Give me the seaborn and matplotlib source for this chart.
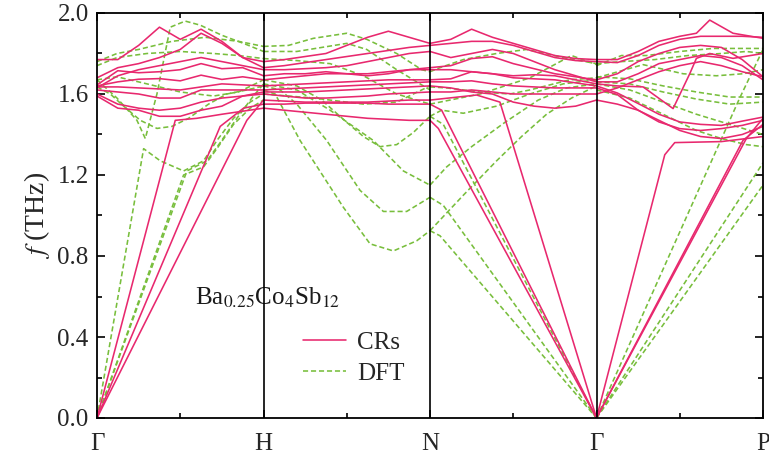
import matplotlib
matplotlib.use("Agg")
import matplotlib.pyplot as plt
from matplotlib.lines import Line2D
from matplotlib.ticker import MultipleLocator, FixedLocator, FormatStrFormatter
import pandas as pd
import seaborn as sns

# ---------------- data ----------------
kpath_labels = ["Γ", "H", "N", "Γ", "P"]
t9 = [0, .125, .25, .375, .5, .625, .75, .875, 1.0]

# CRs (pink) bands, per segment: (fraction along segment, f in THz)
cr_GH = [
    (t9, [1.77, 1.77, 1.84, 1.93, 1.87, 1.92, 1.86, 1.78, 1.76]),
    (t9, [1.68, 1.73, 1.75, 1.78, 1.82, 1.90, 1.85, 1.78, 1.73]),
    (t9, [1.63, 1.69, 1.72, 1.74, 1.76, 1.78, 1.76, 1.74, 1.72]),
    (t9, [1.645, 1.715, 1.705, 1.71, 1.72, 1.75, 1.725, 1.73, 1.69]),
    (t9, [1.64, 1.66, 1.673, 1.676, 1.665, 1.693, 1.672, 1.685, 1.67]),
    (t9, [1.635, 1.635, 1.63, 1.625, 1.62, 1.635, 1.65, 1.645, 1.64]),
    (t9, [1.62, 1.61, 1.60, 1.58, 1.58, 1.62, 1.62, 1.62, 1.62]),
    (t9, [1.60, 1.55, 1.53, 1.52, 1.53, 1.56, 1.58, 1.59, 1.61]),
    (t9, [1.59, 1.53, 1.52, 1.49, 1.49, 1.52, 1.54, 1.59, 1.60]),
    ([0, .47, .6, .75, 1], [0, 1.47, 1.48, 1.50, 1.53]),
    ([0, .74, .88, 1], [0, 1.44, 1.53, 1.55]),
    ([0, .9, 1], [0, 1.47, 1.57]),
]
cr_HN = [
    (t9, [1.76, 1.77, 1.785, 1.80, 1.84, 1.88, 1.91, 1.88, 1.85]),
    (t9, [1.73, 1.74, 1.755, 1.77, 1.785, 1.80, 1.815, 1.83, 1.84]),
    (t9, [1.72, 1.72, 1.725, 1.73, 1.74, 1.76, 1.78, 1.80, 1.81]),
    (t9, [1.69, 1.70, 1.70, 1.71, 1.70, 1.69, 1.70, 1.72, 1.73]),
    (t9, [1.67, 1.68, 1.69, 1.70, 1.70, 1.70, 1.71, 1.72, 1.72]),
    (t9, [1.64, 1.645, 1.65, 1.655, 1.66, 1.665, 1.67, 1.67, 1.67]),
    (t9, [1.62, 1.625, 1.63, 1.635, 1.64, 1.645, 1.65, 1.655, 1.66]),
    (t9, [1.61, 1.61, 1.61, 1.615, 1.62, 1.625, 1.63, 1.635, 1.64]),
    (t9, [1.60, 1.59, 1.58, 1.58, 1.585, 1.59, 1.60, 1.605, 1.61]),
    (t9, [1.53, 1.52, 1.51, 1.50, 1.49, 1.48, 1.475, 1.47, 1.47]),
    (t9, [1.55, 1.55, 1.555, 1.555, 1.555, 1.555, 1.55, 1.55, 1.55]),
    (t9, [1.57, 1.565, 1.56, 1.56, 1.56, 1.56, 1.565, 1.57, 1.57]),
]
cr_NG = [
    (t9, [1.85, 1.87, 1.92, 1.88, 1.85, 1.82, 1.79, 1.775, 1.77]),
    (t9, [1.84, 1.85, 1.86, 1.86, 1.84, 1.81, 1.78, 1.765, 1.76]),
    (t9, [1.81, 1.78, 1.80, 1.82, 1.80, 1.76, 1.72, 1.69, 1.66]),
    (t9, [1.73, 1.74, 1.775, 1.784, 1.75, 1.725, 1.70, 1.685, 1.67]),
    (t9, [1.72, 1.72, 1.71, 1.70, 1.69, 1.695, 1.69, 1.67, 1.65]),
    (t9, [1.67, 1.675, 1.71, 1.70, 1.68, 1.675, 1.67, 1.655, 1.64]),
    (t9, [1.66, 1.66, 1.665, 1.65, 1.64, 1.635, 1.63, 1.63, 1.63]),
    (t9, [1.64, 1.63, 1.61, 1.60, 1.56, 1.54, 1.53, 1.54, 1.57]),
    (t9, [1.61, 1.61, 1.62, 1.61, 1.60, 1.60, 1.60, 1.60, 1.60]),
    ([0, .05, 1], [1.47, 1.43, 0]),
    ([0, .07, 1], [1.55, 1.52, 0]),
    ([0, .28, .42, 1], [1.57, 1.595, 1.56, 0]),
]
cr_GP = [
    ([0, .125, .25, .375, .5, .6, .68, .82, 1],
     [1.77, 1.77, 1.81, 1.86, 1.885, 1.90, 1.965, 1.90, 1.875]),
    (t9, [1.76, 1.755, 1.79, 1.84, 1.87, 1.885, 1.885, 1.885, 1.88]),
    (t9, [1.67, 1.70, 1.76, 1.80, 1.83, 1.84, 1.83, 1.77, 1.685]),
    (t9, [1.66, 1.66, 1.70, 1.75, 1.77, 1.79, 1.78, 1.74, 1.67]),
    ([0, .125, .28, .46, .56, .6, .68, .82, 1],
     [1.65, 1.64, 1.635, 1.528, 1.70, 1.776, 1.80, 1.776, 1.80]),
    (t9, [1.64, 1.605, 1.553, 1.50, 1.462, 1.45, 1.445, 1.466, 1.486]),
    (t9, [1.63, 1.597, 1.52, 1.462, 1.429, 1.42, 1.429, 1.445, 1.47]),
    (t9, [1.60, 1.63, 1.67, 1.71, 1.74, 1.76, 1.74, 1.71, 1.685]),
    (t9, [1.57, 1.55, 1.52, 1.47, 1.42, 1.39, 1.38, 1.40, 1.44]),
    ([0, .88, 1], [0, 1.371, 1.45]),
    ([0, .9, 1], [0, 1.38, 1.48]),
    ([0, .41, .47, .75, 1], [0, 1.30, 1.36, 1.365, 1.39]),
]

# DFT (green dashed) bands, per segment
dft_GH = [
    ([0, .28, .38, .52, .64, .72, .82, .92, 1], [0, 1.33, 1.27, 1.22, 1.27, 1.37, 1.48, 1.56, 1.60]),
    ([0, .52, .64, .72, .82, .92, 1], [0, 1.20, 1.24, 1.33, 1.45, 1.53, 1.57]),
    ([0, .54, .66, .74, .84, .93, 1], [0, 1.22, 1.27, 1.36, 1.48, 1.58, 1.65]),
    ([0, .12, .24, .29, .36, .44, .53, .62, .75, .88, 1],
     [1.67, 1.58, 1.47, 1.38, 1.60, 1.93, 1.96, 1.94, 1.89, 1.85, 1.81]),
    ([0, .08, .16, .26, .36, .45, .55, .67, .78, .9, 1],
     [1.635, 1.60, 1.54, 1.47, 1.43, 1.44, 1.48, 1.55, 1.60, 1.62, 1.64]),
    ([0, .12, .25, .45, .65, .85, 1], [1.76, 1.80, 1.82, 1.86, 1.88, 1.86, 1.835]),
    ([0, .12, .3, .5, .7, .85, 1], [1.74, 1.78, 1.80, 1.81, 1.80, 1.79, 1.775]),
    ([0, .12, .3, .5, .7, .85, 1], [1.67, 1.685, 1.65, 1.61, 1.59, 1.61, 1.67]),
]
dft_HN = [
    ([0, .15, .3, .5, .62, .8, .95, 1], [1.835, 1.84, 1.875, 1.90, 1.87, 1.80, 1.72, 1.71]),
    ([0, .2, .35, .5, .62, .8, 1], [1.81, 1.81, 1.83, 1.85, 1.82, 1.72, 1.62]),
    ([0, .2, .4, .6, .8, 1], [1.775, 1.765, 1.75, 1.69, 1.60, 1.55]),
    ([0, .2, .35, .5, .6, .7, .8, .9, 1], [1.67, 1.64, 1.57, 1.46, 1.39, 1.34, 1.35, 1.41, 1.49]),
    ([0, .2, .4, .66, .84, 1], [1.65, 1.62, 1.52, 1.37, 1.22, 1.15]),
    ([0, .1, .2, .38, .58, .72, .86, 1], [1.64, 1.62, 1.55, 1.37, 1.124, 1.02, 1.02, 1.09]),
    ([0, .07, .22, .48, .64, .78, .92, 1], [1.62, 1.60, 1.37, 1.04, 0.86, 0.825, 0.875, 0.925]),
    ([0, .3, .6, .8, 1], [1.60, 1.58, 1.55, 1.56, 1.64]),
]
dft_NG = [
    ([0, .08, 1], [1.49, 1.45, 0]),
    ([0, .07, .2, .4, .6, .8, 1], [1.49, 1.52, 1.505, 1.54, 1.60, 1.65, 1.67]),
    ([0, .06, 1], [0.925, 0.90, 0]),
    ([0, .2, .4, .55, .7, .85, 1], [0.925, 1.10, 1.27, 1.39, 1.50, 1.58, 1.64]),
    ([0, .08, 1], [1.09, 1.05, 0]),
    ([0, .1, .25, .45, .65, .82, 1], [1.15, 1.24, 1.34, 1.46, 1.57, 1.63, 1.65]),
    ([0, .06, .2, .4, .58, .8, 1], [1.71, 1.73, 1.77, 1.80, 1.82, 1.78, 1.75]),
    ([0, .1, .3, .48, .6, .84, 1], [1.635, 1.63, 1.61, 1.60, 1.62, 1.67, 1.68]),
    ([0, .3, .6, .85, 1], [1.55, 1.60, 1.68, 1.79, 1.745]),
]
dft_GP = [
    ([0, .86, 1], [0, 1.58, 1.82]),
    ([0, 1], [0, 1.26]),
    ([0, 1], [0, 1.15]),
    ([0, .2, .4, .6, .75, .9, 1], [1.62, 1.58, 1.50, 1.42, 1.38, 1.35, 1.34]),
    ([0, .15, .3, .5, .7, .85, 1], [1.74, 1.79, 1.79, 1.81, 1.825, 1.825, 1.825]),
    ([0, .15, .35, .55, .75, .9, 1], [1.75, 1.76, 1.77, 1.79, 1.80, 1.81, 1.80]),
    ([0, .28, .52, .72, .88, 1], [1.68, 1.745, 1.70, 1.69, 1.70, 1.72]),
    ([0, .2, .4, .6, .8, 1], [1.685, 1.675, 1.64, 1.61, 1.585, 1.585]),
    ([0, .2, .4, .6, .8, 1], [1.66, 1.65, 1.61, 1.575, 1.55, 1.56]),
    ([0, .2, .4, .6, .8, 1], [1.65, 1.62, 1.56, 1.50, 1.45, 1.40]),
]

PINK = "#E8286E"
GREEN = "#78BE3C"


def to_frame(segments, method):
    rows = []
    for s, bands in enumerate(segments):
        for b, (xs, fs) in enumerate(bands):
            for x, f in zip(xs, fs):
                rows.append({"k": s + x, "f": f, "band": f"{s}-{b}", "method": method})
    return pd.DataFrame(rows)


df_cr = to_frame([cr_GH, cr_HN, cr_NG, cr_GP], "CRs")
df_dft = to_frame([dft_GH, dft_HN, dft_NG, dft_GP], "DFT")

# ---------------- style ----------------
sns.set_style("ticks")
plt.rcParams["font.family"] = ["Liberation Serif", "DejaVu Serif"]
plt.rcParams["mathtext.fontset"] = "stix"

fig = plt.figure(figsize=(7.69, 4.57), dpi=100)
ax = fig.add_axes([97 / 769, 39 / 457, 666 / 769, 405 / 457])

DASH = (0, (3.2, 1.8))
sns.lineplot(data=df_dft, x="k", y="f", units="band", estimator=None, sort=False,
             color=GREEN, lw=1.15, linestyle=DASH, ax=ax, legend=False)
sns.lineplot(data=df_cr, x="k", y="f", units="band", estimator=None, sort=False,
             color=PINK, lw=1.15, ax=ax, legend=False)

for xv in [1, 2, 3]:
    ax.axvline(xv, color="black", lw=1.2, zorder=5)

ax.set_xlim(0, 4)
ax.set_ylim(0, 2.0)
ax.xaxis.set_major_locator(FixedLocator([0, 1, 2, 3, 4]))
ax.set_xticklabels(kpath_labels)
ax.xaxis.set_minor_locator(MultipleLocator(0.5))
ax.yaxis.set_major_locator(MultipleLocator(0.4))
ax.yaxis.set_minor_locator(MultipleLocator(0.2))
ax.yaxis.set_major_formatter(FormatStrFormatter("%.1f"))
ax.tick_params(which="both", direction="in", top=True, right=True, width=1.2,
               labelsize=18, color="black")
ax.tick_params(which="major", length=6)
ax.tick_params(which="minor", length=3.5)
ax.tick_params(axis="x", which="major", pad=11)
ax.tick_params(axis="y", which="major", pad=6)
for sp in ax.spines.values():
    sp.set_linewidth(1.3)
    sp.set_color("black")

ax.set_xlabel("")
ax.set_ylabel(r"$f$ (THz)", fontsize=20, labelpad=4)

ax.text(0.59, 0.56, r"Ba$_{0.25}$Co$_4$Sb$_{12}$", fontsize=18, color="#1a1a1a")

handles = [Line2D([], [], color=PINK, lw=1.15),
           Line2D([], [], color=GREEN, lw=1.15, linestyle=DASH)]
ax.legend(handles, ["CRs", "DFT"], loc="center left",
          bbox_to_anchor=((303 - 97) / 666, (418 - 358) / 405),
          frameon=False, fontsize=18, handlelength=1.7, handletextpad=0.45,
          borderaxespad=0, borderpad=0, labelspacing=0.32)

fig.savefig("out.png", dpi=100)
